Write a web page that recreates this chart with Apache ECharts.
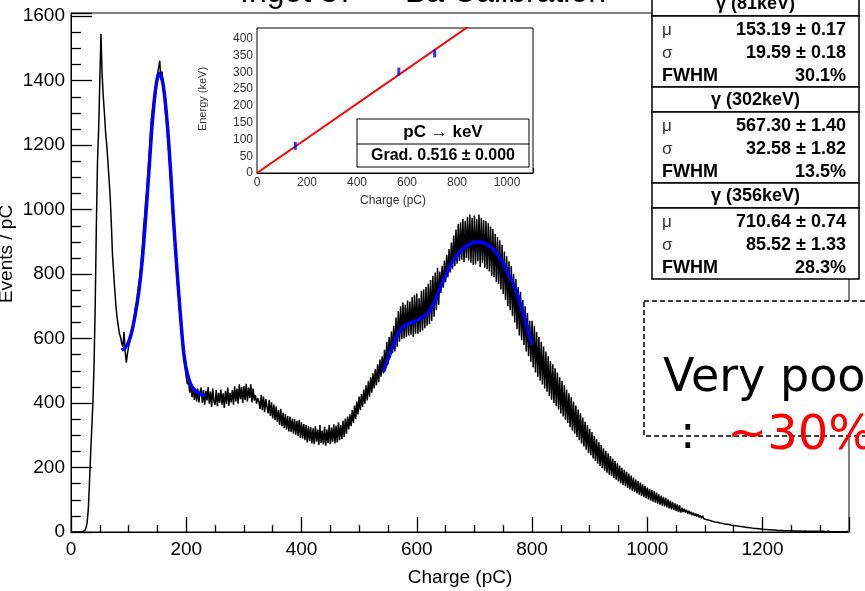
<!DOCTYPE html>
<html><head><meta charset="utf-8">
<script src="https://cdn.jsdelivr.net/npm/echarts@6/dist/echarts.min.js"></script>
<style>html,body{margin:0;padding:0;background:#fff}#c{width:865px;height:591px}</style>
</head><body><div id="c"></div>
<script>
// ---------- data ----------
const binWidth = 2; // pC per bin, first bin at 0 pC
const counts = [
0,0,0,0,0,0,0,0,0,0,
1,2,5,12,30,70,150,240,320,400,
520,700,950,1150,1250,1400,1545,1420,1350,1300,
1240,1200,1150,1095,1040,955,860,805,750,700,
665,640,615,605,585,575,620,560,525,555,
575,590,612,628,652,668,698,712,748,768,
800,845,888,945,985,1035,1068,1125,1180,1245,
1290,1318,1348,1372,1395,1420,1440,1462,1402,1428,
1380,1342,1300,1268,1218,1172,1118,1052,990,948,
900,842,790,745,702,650,612,570,540,510,
480,458,468,432,458,418,452,410,445,405,
445,402,436,448,400,440,395,438,408,450,
398,436,388,445,405,395,440,390,432,400,
442,395,430,385,438,398,448,392,432,402,
440,395,452,405,445,398,458,412,450,400,
452,410,460,405,448,415,458,402,445,408,
425,398,415,405,382,425,378,420,372,412,
418,368,410,360,402,352,395,348,390,342,
378,332,382,328,370,322,365,318,360,312,
358,310,352,305,350,302,345,298,348,292,
340,290,335,285,332,278,328,282,325,275,
322,272,328,280,318,270,332,276,315,272,
326,268,318,276,332,272,324,280,334,275,
330,278,340,285,332,288,345,295,352,305,
358,318,365,328,378,338,392,350,405,365,
420,378,428,388,442,398,455,408,468,420,
480,432,492,445,505,455,520,465,535,482,
545,492,565,508,590,520,605,540,622,555,
640,560,665,575,685,590,700,598,712,600,
705,605,718,610,715,612,728,605,735,615,
740,615,725,620,748,625,752,632,760,640,
770,645,782,655,795,668,805,688,820,705,
808,742,825,758,842,775,860,790,878,805,
898,815,920,825,938,832,955,840,960,845,
972,838,965,850,978,842,985,835,975,828,
982,830,970,840,985,822,975,835,968,820,
965,815,958,808,948,795,940,790,925,775,
915,770,905,752,890,738,870,720,855,700,
840,688,825,670,800,650,785,630,760,610,
745,595,720,580,700,560,680,545,655,528,
655,510,640,495,620,482,605,470,590,458,
575,445,560,435,545,422,530,410,520,400,
508,390,495,380,480,368,468,358,455,348,
442,338,430,326,418,315,405,305,392,295,
380,285,368,275,355,265,342,255,332,245,
320,238,310,228,298,220,288,212,278,205,
270,198,260,190,252,184,244,178,236,173,
228,168,220,162,213,157,206,151,199,146,
193,142,187,137,181,132,175,128,169,124,
163,120,158,116,153,112,148,108,143,105,
138,101,134,97,130,94,126,91,122,88,
117,85,113,82,109,79,105,76,101,73,
97,70,93,68,89,65,86,62,83,60,
75,62,72,60,69,57,66,55,63,52,
60,50,57,48,55,45,52,43,50,41,
47,39,45,37,43,35,41,33,39,31,
37,30,35,28,33,27,31,25,30,24,
28,23,27,21,25,20,24,19,23,18,
21,17,20,16,19,15,18,14,17,13,
16,12,15,11,14,11,13,10,13,9,
12,8,11,8,11,7,10,7,10,6,
9,6,9,5,8,5,8,5,8,4,
8,4,7,4,7,4,7,3,6,3,
6,3,6,3,6,2,5,3,5,2,
5,2,5,2,5,2,4,2,4,2,
4,2,4,2,4,1,4,2,4,1,
4,1,3,1,3,1,3,1,3,1,
3,1,3,1,3
];
const fit81X = [88,94,100,106,112,118,124,130,136,142,148,153,158,163,168,173,178,184,190,196,202,210,220,233];
const fit81Y = [564,572,590,625,680,750,850,985,1140,1290,1390,1422,1405,1345,1245,1115,965,810,670,550,490,450,432,422];
const fitMainX = [542,554,565,577,594,612,623,635,646,664,681,698,710,724,739,756,774,788,800];
const fitMainY = [497,555,606,637,652,668,688,730,781,843,880,898,900,890,864,812,740,657,580];

const mainXTicks = [0,200,400,600,800,1000,1200];
const mainYTicks = [0,200,400,600,800,1000,1200,1400,1600];
const mainXMax = 1350, mainYMax = 1610;

const calibCharge = [153.19, 567.30, 710.64];
const calibEnergy = [81, 302, 356];
const calibLineCharge = [0, 1100];
const calibLineEnergy = [0, 567.6];
const insetXTicks = [0,200,400,600,800,1000];
const insetYTicks = [0,50,100,150,200,250,300,350,400];
const insetXMax = 1104, insetYMax = 432;

const peakNames = ['\u03b3 (81keV)','\u03b3 (302keV)','\u03b3 (356keV)'];
const peakMu = ['153.19 \u00b1 0.17','567.30 \u00b1 1.40','710.64 \u00b1 0.74'];
const peakSigma = ['19.59 \u00b1 0.18','32.58 \u00b1 1.82','85.52 \u00b1 1.33'];
const peakFwhm = ['30.1%','13.5%','28.3%'];

// ---------- chart ----------
const F = 'Liberation Sans, Arial, Helvetica, sans-serif';
const chart = echarts.init(document.getElementById('c'), null, {renderer:'canvas'});
const hist = counts.map((v,i)=>[i*binWidth, v]);
const f81 = fit81X.map((x,i)=>[x, fit81Y[i]]);
const fMain = fitMainX.map((x,i)=>[x, fitMainY[i]]);
const calPts = calibCharge.map((x,i)=>[x, calibEnergy[i]]);
const calLine = calibLineCharge.map((x,i)=>[x, calibLineEnergy[i]]);
const plain = v => String(v);

const gfx = [];
// title (cut at top)
gfx.push({type:'text', z:100, style:{text:'Ingot 37', x:240, y:9, font:'32px '+F, fill:'#000', textAlign:'left', textVerticalAlign:'bottom'}});
gfx.push({type:'text', z:100, style:{text:'Ba Calibration', x:405, y:9, font:'32px '+F, fill:'#000', textAlign:'left', textVerticalAlign:'bottom'}});
// axis titles
gfx.push({type:'text', z:100, style:{text:'Charge (pC)', x:460, y:578, font:'19px '+F, fill:'#000', textAlign:'center', textVerticalAlign:'middle'}});
gfx.push({type:'text', z:100, x:7, y:254, rotation:Math.PI/2, style:{text:'Events / pC', x:0, y:0, font:'19px '+F, fill:'#000', textAlign:'center', textVerticalAlign:'middle'}});
gfx.push({type:'text', z:100, x:203, y:99, rotation:Math.PI/2, style:{text:'Energy (keV)', x:0, y:0, font:'11px '+F, fill:'#333', textAlign:'center', textVerticalAlign:'middle'}});
gfx.push({type:'text', z:100, style:{text:'Charge (pC)', x:393, y:201, font:'12px '+F, fill:'#333', textAlign:'center', textVerticalAlign:'middle'}});
// inset legend box
gfx.push({type:'rect', z:100, shape:{x:357, y:119, width:172, height:48}, style:{fill:'#fff', stroke:'#000', lineWidth:1}});
gfx.push({type:'line', z:101, shape:{x1:357, y1:144, x2:529, y2:144}, style:{stroke:'#000', lineWidth:1}});
gfx.push({type:'text', z:102, style:{text:'pC \u2192 keV', x:443, y:132, font:'bold 17px '+F, fill:'#000', textAlign:'center', textVerticalAlign:'middle'}});
gfx.push({type:'text', z:102, style:{text:'Grad. 0.516 \u00b1 0.000', x:443, y:156, font:'bold 16px '+F, fill:'#000', textAlign:'center', textVerticalAlign:'middle'}});
// stat boxes
const bx = 652, bw = 207;
peakNames.forEach((nm,k)=>{
  const top = -9 + k*96;
  gfx.push({type:'rect', z:100, shape:{x:bx, y:top, width:bw, height:25}, style:{fill:'#fff', stroke:'#000', lineWidth:1.5}});
  gfx.push({type:'text', z:102, style:{text:nm, x:bx+bw/2, y:top+13, font:'bold 18px '+F, fill:'#000', textAlign:'center', textVerticalAlign:'middle'}});
  gfx.push({type:'rect', z:100, shape:{x:bx, y:top+25, width:bw, height:71}, style:{fill:'#fff', stroke:'#000', lineWidth:1.5}});
  const rows = [['\u03bc', peakMu[k]], ['\u03c3', peakSigma[k]], ['FWHM', peakFwhm[k]]];
  rows.forEach((r,j)=>{
    const yy = top+25+14+j*23;
    gfx.push({type:'text', z:102, style:{text:r[0], x:bx+10, y:yy, font:(j===2?'bold 18px ':'17px ')+F, fill:j===2?'#000':'#333', textAlign:'left', textVerticalAlign:'middle'}});
    gfx.push({type:'text', z:102, style:{text:r[1], x:bx+bw-13, y:yy, font:'bold 18px '+F, fill:'#000', textAlign:'right', textVerticalAlign:'middle'}});
  });
});
// dashed annotation box
gfx.push({type:'rect', z:100, shape:{x:644, y:301, width:260, height:135}, style:{fill:'#fff', stroke:'#000', lineWidth:1.5, lineDash:[5,3]}});
gfx.push({type:'text', z:102, style:{text:'Very poor', x:663, y:356, font:'46px DejaVu Sans, sans-serif', fill:'#000', textAlign:'left', textVerticalAlign:'alphabetic'}});
gfx.push({type:'text', z:102, style:{text:':', x:680, y:413, font:'46px DejaVu Sans, sans-serif', fill:'#000', textAlign:'left', textVerticalAlign:'alphabetic'}});
gfx.push({type:'text', z:102, style:{text:'~30%', x:727, y:413, font:'48px DejaVu Sans, sans-serif', fill:'#ff0000', textAlign:'left', textVerticalAlign:'alphabetic'}});

const axLbl = {fontFamily:F, fontSize:19, color:'#000', formatter:plain};
const option = {
  animation:false,
  backgroundColor:'#fff',
  grid:[
    {left:71, top:13, width:778, height:519, show:true, borderColor:'#000', borderWidth:1, backgroundColor:'transparent', containLabel:false, outerBoundsMode:'none'},
    {left:257, top:28, width:276, height:145, show:true, borderColor:'#000', borderWidth:1, backgroundColor:'#fff', containLabel:false, outerBoundsMode:'none', z:5}
  ],
  xAxis:[
    {type:'value', gridIndex:0, min:mainXTicks[0], max:mainXMax, interval:mainXTicks[1]-mainXTicks[0],
     axisLine:{show:true, onZero:false, lineStyle:{color:'#000', width:1}},
     axisTick:{show:true, inside:true, length:15, lineStyle:{color:'#000', width:1.3}},
     minorTick:{show:true, splitNumber:4, length:7, lineStyle:{color:'#000', width:1.3}},
     axisLabel:Object.assign({margin:8, showMaxLabel:false}, axLbl), splitLine:{show:false}},
    {type:'value', gridIndex:1, min:insetXTicks[0], max:insetXMax, interval:insetXTicks[1]-insetXTicks[0],
     axisLine:{show:true, onZero:false, lineStyle:{color:'#000', width:1}},
     axisTick:{show:true, inside:true, length:5, lineStyle:{color:'#000'}},
     minorTick:{show:true, splitNumber:4, length:3, lineStyle:{color:'#000'}},
     axisLabel:{margin:4, showMaxLabel:false, fontFamily:F, fontSize:12, color:'#333', formatter:plain}, splitLine:{show:false}}
  ],
  yAxis:[
    {type:'value', gridIndex:0, min:mainYTicks[0], max:mainYMax, interval:mainYTicks[1]-mainYTicks[0],
     axisLine:{show:true, onZero:false, lineStyle:{color:'#000', width:1}},
     axisTick:{show:true, inside:true, length:21, lineStyle:{color:'#000', width:1.3}},
     minorTick:{show:true, splitNumber:4, length:10, lineStyle:{color:'#000', width:1.3}},
     axisLabel:Object.assign({margin:6, showMaxLabel:false}, axLbl), splitLine:{show:false}},
    {type:'value', gridIndex:1, min:insetYTicks[0], max:insetYMax, interval:insetYTicks[1]-insetYTicks[0],
     axisLine:{show:true, onZero:false, lineStyle:{color:'#000', width:1}},
     axisTick:{show:true, inside:true, length:5, lineStyle:{color:'#000'}},
     minorTick:{show:true, splitNumber:5, length:3, lineStyle:{color:'#000'}},
     axisLabel:{margin:4, showMaxLabel:false, fontFamily:F, fontSize:12, color:'#333', formatter:plain}, splitLine:{show:false}}
  ],
  series:[
    {type:'line', xAxisIndex:0, yAxisIndex:0, data:hist, showSymbol:false, symbol:'none', lineStyle:{color:'#000', width:1.5}, z:2},
    {type:'line', xAxisIndex:0, yAxisIndex:0, data:f81, smooth:0.3, showSymbol:false, symbol:'none', lineStyle:{color:'#0000ff', width:3.5}, z:3},
    {type:'line', xAxisIndex:0, yAxisIndex:0, data:fMain, smooth:0.3, showSymbol:false, symbol:'none', lineStyle:{color:'#0000ff', width:3.5}, z:3},
    {type:'line', xAxisIndex:1, yAxisIndex:1, data:calLine, showSymbol:false, symbol:'none', clip:true, lineStyle:{color:'#ff0000', width:2}, z:10},
    {type:'scatter', xAxisIndex:1, yAxisIndex:1, data:calPts, symbol:'rect', symbolSize:[3,8], itemStyle:{color:'#0000ff'}, z:11}
  ],
  graphic:gfx
};
chart.setOption(option);
</script></body></html>
